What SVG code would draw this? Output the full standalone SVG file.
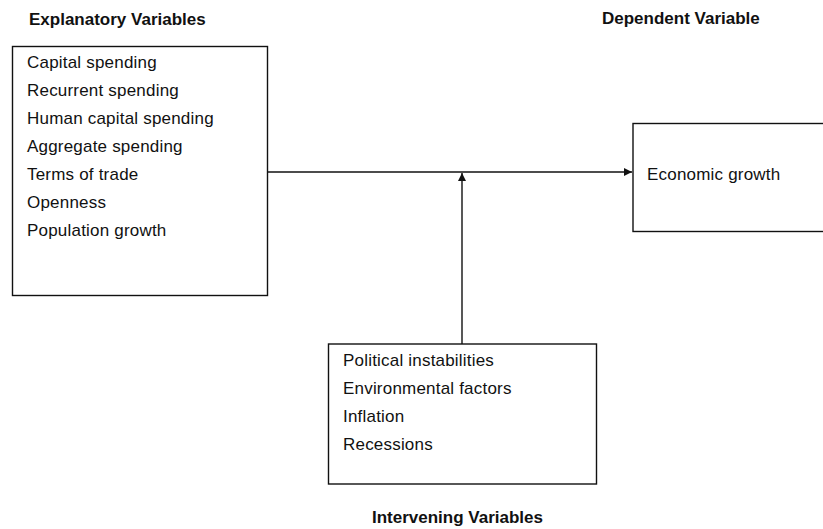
<svg xmlns="http://www.w3.org/2000/svg" width="823" height="529" viewBox="0 0 823 529">
<defs>
<style>
.box{fill:#fff;stroke:#111;stroke-width:1.4}
.t{font-family:"Liberation Sans",Arial,sans-serif;font-size:17px;fill:#111;letter-spacing:0.2px}
.h{font-family:"Liberation Sans",Arial,sans-serif;font-size:17px;font-weight:bold;fill:#111}
.ln{fill:none;stroke:#111;stroke-width:1.4}
</style>
<marker id="arr" viewBox="0 0 10 10" refX="10" refY="5" markerWidth="10" markerHeight="8" markerUnits="userSpaceOnUse" orient="auto">
<path d="M0,0 L10,5 L0,10 Z" fill="#111"/>
</marker>
</defs>
<rect width="823" height="529" fill="#fff"/>
<text class="h" x="29" y="25">Explanatory Variables</text>
<text class="h" x="602" y="24">Dependent Variable</text>
<text class="h" x="457.5" y="523" text-anchor="middle">Intervening Variables</text>
<g id="connectors">
<line class="ln" x1="267" y1="172" x2="632" y2="172" marker-end="url(#arr)"/>
<line class="ln" x1="462" y1="344" x2="462" y2="173" marker-end="url(#arr)"/>
</g>
<g id="explanatory">
<rect class="box" x="12.5" y="46.5" width="255" height="249"/>
<text class="t" x="27" y="68">Capital spending</text>
<text class="t" x="27" y="96">Recurrent spending</text>
<text class="t" x="27" y="124">Human capital spending</text>
<text class="t" x="27" y="152">Aggregate spending</text>
<text class="t" x="27" y="180">Terms of trade</text>
<text class="t" x="27" y="208">Openness</text>
<text class="t" x="27" y="236">Population growth</text>
</g>
<g id="dependent">
<rect class="box" x="633" y="123.5" width="195" height="108"/>
<text class="t" x="647" y="180">Economic growth</text>
</g>
<g id="intervening">
<rect class="box" x="328.5" y="344" width="268" height="140"/>
<text class="t" x="343" y="366">Political instabilities</text>
<text class="t" x="343" y="394">Environmental factors</text>
<text class="t" x="343" y="422">Inflation</text>
<text class="t" x="343" y="450">Recessions</text>
</g>
</svg>
